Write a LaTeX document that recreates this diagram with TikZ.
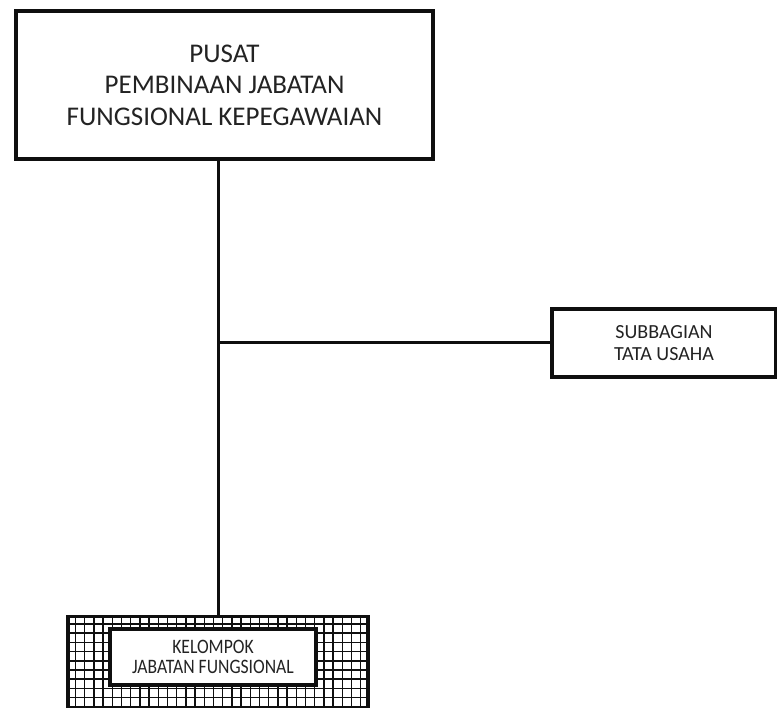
\documentclass[tikz,border=0pt]{standalone}
\usepackage{fontspec}
\setmainfont{Carlito}
\newfontfamily\narrowfont{Carlito}[FakeStretch=0.86]
\usepackage{xcolor}
\usepackage{tikz}
\usetikzlibrary{positioning}
\definecolor{ChartInk}{RGB}{15, 15, 15}
\definecolor{TextInk}{RGB}{35, 35, 35}
\tikzset{
  unitbox/.style={rectangle, draw=ChartInk, line width=3.5pt, fill=white,
    align=center, inner sep=0pt, text=TextInk},
  headbox/.style={unitbox, minimum width=417pt, minimum height=148pt,
    font=\fontsize{27}{31.5}\selectfont},
  staffbox/.style={unitbox, minimum width=224pt, minimum height=68pt,
    font=\fontsize{20}{22.5}\selectfont},
  groupbox/.style={rectangle, draw=ChartInk, line width=3.5pt,
    minimum width=300pt, minimum height=100pt, inner sep=0pt},
  fnbox/.style={unitbox, line width=4pt, minimum width=206pt,
    minimum height=56pt, font=\narrowfont\fontsize{20.5}{20.5}\selectfont},
  gridline/.style={ChartInk, line width=1.5pt},
  link/.style={ChartInk, line width=3pt},
}

\begin{document}
\begin{tikzpicture}[x=1pt, y=-1pt]
  \useasboundingbox (0,0) rectangle (777,708);
  % kepala pusat
  \node[headbox] (pusat) at (224.5,85)
    {PUSAT\\PEMBINAAN JABATAN\\FUNGSIONAL KEPEGAWAIAN};
  % subbagian
  \node[staffbox] (tu) at (664,343) {SUBBAGIAN\\TATA USAHA};
  % kelompok jabatan fungsional (kotak berarsir)
  \node[groupbox, fill=white] (grp) at (218,666.5) {};
  \begin{scope}
    \clip (grp.south west) rectangle (grp.north east);
    \foreach \k in {1,...,33}
      \draw[gridline] ([xshift=\k*9.2pt]grp.south west)
        -- ([xshift=\k*9.2pt]grp.north west);
    \foreach \k in {1,...,11}
      \draw[gridline] ([yshift=-\k*9.2pt]grp.north west)
        -- ([yshift=-\k*9.2pt]grp.north east);
  \end{scope}
  \node[groupbox] at (grp.center) {};
  \node[fnbox] (jf) at (213,657) {KELOMPOK\\JABATAN FUNGSIONAL};
  % garis
  \draw[link] (pusat.south -| 218,0) coordinate (top) -- (grp.north -| top);
  \draw[link] (top |- tu.west) -- (tu.west);
\end{tikzpicture}
\end{document}
